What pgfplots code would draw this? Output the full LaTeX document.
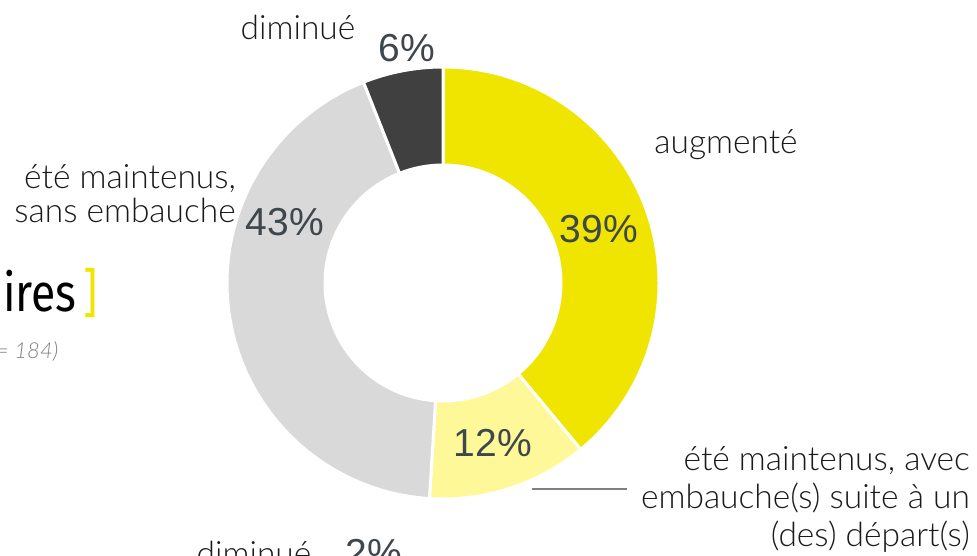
\documentclass[border=0pt]{standalone}
\usepackage{pgfplots}
\usepackage{pgfplotstable}
\pgfplotsset{compat=1.18}
\usepackage{fontspec}
\setmainfont{Liberation Sans}
\newfontfamily\lab{Lato Light}
\newfontfamily\ttl{Fira Sans}

\definecolor{cYel}{HTML}{F0E500}
\definecolor{cLight}{HTML}{FFF899}
\definecolor{cGray}{HTML}{D9D9D9}
\definecolor{cDark}{HTML}{404040}
\definecolor{pctText}{HTML}{3E474C}
\definecolor{labText}{HTML}{1A1A1A}

% share of each answer, clockwise from 12 o'clock
\pgfplotstableread{
pct col
39 cYel
12 cLight
43 cGray
6 cDark
}\slices

\begin{document}
\begin{tikzpicture}
\begin{axis}[
  width=977pt, height=556pt, scale only axis,
  hide axis, clip=false,
  xmin=0, xmax=977, ymin=-556, ymax=0,
]
\pgfplotsextra{
  \pgfplotstablegetrowsof{\slices}
  \pgfmathtruncatemacro\nrows{\pgfplotsretval-1}
  \xdef\acc{90}
  \foreach \i in {0,...,\nrows}{
    \pgfplotstablegetelem{\i}{pct}\of\slices \let\spct\pgfplotsretval
    \pgfplotstablegetelem{\i}{col}\of\slices \let\scol\pgfplotsretval
    \pgfmathsetmacro\aEnd{\acc-3.6*\spct}
    \path[fill=\scol, draw=white, line width=3pt]
      (axis cs:443,-283) ++(\acc:216pt)
      arc[start angle=\acc, end angle=\aEnd, radius=216pt]
      -- ++(\aEnd:-98pt)
      arc[start angle=\aEnd, end angle=\acc, radius=118pt] -- cycle;
    \xdef\acc{\aEnd}
  }
}

% percentages
\begin{scope}[every node/.style={text=pctText, font=\fontsize{39}{44}\selectfont}]
\node at (axis cs:599,-229) {39\%};
\node at (axis cs:493,-443) {12\%};
\node at (axis cs:285,-222) {43\%};
\node at (axis cs:407,-48) {6\%};
\node[anchor=base west] at (axis cs:342,-567) {2\%};
\end{scope}

% category labels
\begin{scope}[every node/.style={text=labText, font=\lab\fontsize{33.5}{34}\selectfont}]
\node at (axis cs:298,-27) {diminué};
\node at (axis cs:726,-145) {augmenté};
\node[anchor=east, align=right, inner sep=0pt] at (axis cs:236,-194) {été maintenus,\\sans embauche};
\node[anchor=east, align=right, inner sep=0pt, font=\lab\fontsize{33.5}{38}\selectfont] at (axis cs:970,-499)
  {été maintenus, avec\\embauche(s) suite à un\\(des) départ(s)};
\node[anchor=base] at (axis cs:254,-566) {diminué};
\end{scope}
\draw[gray, line width=1.5pt] (axis cs:532,-489) -- (axis cs:627,-489);

% title remnants on the left
\node[anchor=base west, xscale=0.84, inner sep=0pt, font=\ttl\fontsize{53}{60}\selectfont]
  at (axis cs:3,-312) {ires\hspace{0.15em}\textcolor{cYel}{]}};
\node[anchor=base west, inner sep=0pt, text=gray, font=\lab\itshape\fontsize{22}{26}\selectfont]
  at (axis cs:-4,-359) {= 184)};
\end{axis}
\pgfresetboundingbox
\useasboundingbox (current axis.south west) rectangle (current axis.north east);
\end{tikzpicture}
\end{document}
